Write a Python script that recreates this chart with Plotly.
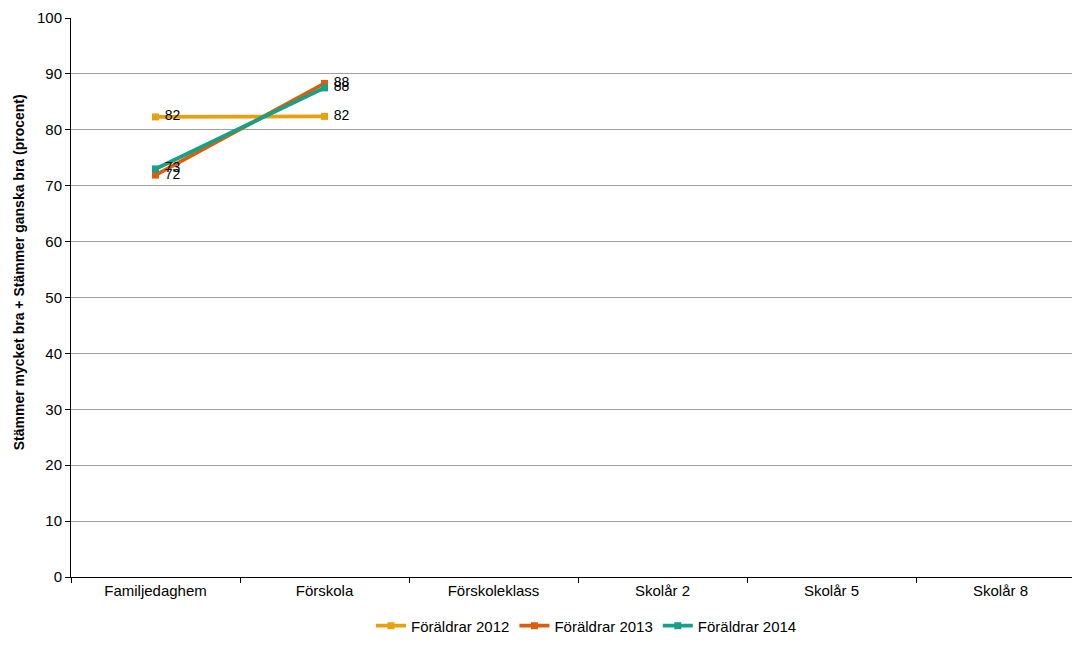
import plotly.graph_objects as go

categories = ["Familjedaghem", "Förskola", "Förskoleklass", "Skolår 2", "Skolår 5", "Skolår 8"]
series_names = ["Föräldrar 2012", "Föräldrar 2013", "Föräldrar 2014"]
vals_2012 = [82.3, 82.4, None, None, None, None]
vals_2013 = [71.9, 88.3, None, None, None, None]
vals_2014 = [73.0, 87.5, None, None, None, None]
colors = ["#E8A10C", "#D95F0E", "#16A085"]
y_ticks = [0, 10, 20, 30, 40, 50, 60, 70, 80, 90, 100]
y_title = "Stämmer mycket bra + Stämmer ganska bra (procent)"

FONT = "Liberation Sans, Arial, sans-serif"
fig = go.Figure()
for name, vals, col in zip(series_names, [vals_2012, vals_2013, vals_2014], colors):
    fig.add_trace(go.Scatter(
        x=categories, y=vals, name=name, mode="lines+markers+text",
        line=dict(color=col, width=3.8),
        marker=dict(symbol="square", size=7, color=col),
        text=[(" %d" % round(v)) if v is not None else "" for v in vals],
        textposition="middle right",
        textfont=dict(family=FONT, size=14, color="black"),
        cliponaxis=False,
    ))

fig.add_annotation(
    text="<b>" + y_title + "</b>", textangle=-90,
    xref="paper", yref="paper", x=-0.052, y=0.545, xanchor="center", yanchor="middle",
    showarrow=False, font=dict(family=FONT, size=14, color="black"),
)

fig.update_layout(
    width=1100, height=660,
    margin=dict(l=71, r=28, t=18, b=83),
    paper_bgcolor="white", plot_bgcolor="white",
    font=dict(family=FONT, size=15, color="black"),
    showlegend=True,
    legend=dict(orientation="h", x=0.515, xanchor="center", y=-0.058, yanchor="top",
                font=dict(family=FONT, size=15), tracegroupgap=0),
    xaxis=dict(type="category", categoryorder="array", categoryarray=categories,
               range=[-0.5, 5.423], showline=True, linecolor="black", linewidth=1,
               ticks="outside", tickson="boundaries", ticklen=5, tickcolor="black",
               showgrid=False, tickfont=dict(size=15), automargin=False),
    yaxis=dict(range=[0, 100], tickvals=y_ticks, showline=True, linecolor="black", linewidth=1,
               ticks="outside", ticklen=5, tickcolor="black", showgrid=True, gridcolor="#A0A0A0",
               gridwidth=1, zeroline=False, tickfont=dict(size=15), automargin=False),
)
fig.write_html(
    "out.html",
    config={"displayModeBar": False},
    post_script=("var s=document.createElement('style');"
                 "s.textContent='html,body{margin:0;padding:0;overflow:hidden;scrollbar-width:none;}"
                 "::-webkit-scrollbar{display:none;width:0;height:0;}';"
                 "document.head.appendChild(s);"),
)
